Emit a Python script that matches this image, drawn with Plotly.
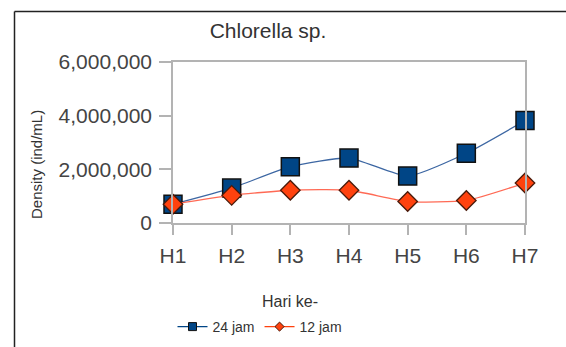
import plotly.graph_objects as go

days = ["H1", "H2", "H3", "H4", "H5", "H6", "H7"]
jam24 = [700000, 1300000, 2100000, 2420000, 1750000, 2600000, 3820000]
jam12 = [700000, 1030000, 1220000, 1220000, 800000, 840000, 1490000]
y_ticks = [0, 2000000, 4000000, 6000000]
y_tick_labels = ["0", "2,000,000", "4,000,000", "6,000,000"]

W, H = 566, 347
L, R, T, B = 173, 41, 62, 124
pw, ph = W - L - R, H - T - B

def px_x(px):
    return (px - L) / pw

def px_y(py):
    return (H - B - py) / ph

FONT = "Liberation Sans, Arial, sans-serif"

fig = go.Figure()

fig.add_trace(go.Scatter(
    x=days, y=jam24, mode="lines+markers", name="24 jam", showlegend=False,
    line=dict(color="#3d67a3", width=1.3, shape="spline", smoothing=0.55),
    marker=dict(symbol="square", size=18, color="#004586",
                line=dict(color="#111111", width=1.5)),
    cliponaxis=False,
))
fig.add_trace(go.Scatter(
    x=days, y=jam12, mode="lines+markers", name="12 jam", showlegend=False,
    line=dict(color="#ff6a55", width=1.3, shape="spline", smoothing=0.55),
    marker=dict(symbol="diamond", size=15, color="#ff420e",
                line=dict(color="#4a1a0a", width=1.3)),
    cliponaxis=False,
))
# legend entries (smaller symbols, as in the reference legend)
fig.add_trace(go.Scatter(
    x=[None], y=[None], mode="lines+markers", name="24 jam",
    line=dict(color="#004586", width=1.3),
    marker=dict(symbol="square", size=8, color="#004586",
                line=dict(color="#111111", width=1)),
))
fig.add_trace(go.Scatter(
    x=[None], y=[None], mode="lines+markers", name="12 jam",
    line=dict(color="#ff420e", width=1.3),
    marker=dict(symbol="diamond", size=7, color="#ff420e",
                line=dict(color="#4a1a0a", width=1)),
))

fig.update_layout(
    width=W, height=H,
    margin=dict(l=L, r=R, t=T, b=B, pad=0, autoexpand=False),
    paper_bgcolor="white", plot_bgcolor="white",
    font=dict(family=FONT, color="#333333"),
    title=dict(text="Chlorella sp.", x=px_x(268), xref="paper", xanchor="center",
               y=1 - 31 / H, yref="container", yanchor="middle",
               font=dict(size=21, color="#333333", family=FONT)),
    showlegend=True,
    legend=dict(orientation="h", x=px_x(260), xanchor="center",
                y=1 - 327 / H, yref="container", yanchor="middle",
                font=dict(size=14, color="#333333", family=FONT),
                itemwidth=30, tracegroupgap=0, bgcolor="rgba(0,0,0,0)"),
    xaxis=dict(
        type="category", categoryorder="array", categoryarray=days,
        range=[0, len(days) - 1], automargin=False,
        showgrid=False, zeroline=False,
        showline=True, linecolor="#b3b3b3", linewidth=1.5, mirror=True,
        ticks="outside", ticklen=10, tickcolor="#b3b3b3", tickwidth=1.5,
        ticklabelstandoff=3,
        tickfont=dict(size=21, color="#444444", family=FONT),
    ),
    yaxis=dict(
        range=[0, 6000000], tickvals=y_ticks, ticktext=y_tick_labels,
        automargin=False,
        showgrid=False, zeroline=False,
        showline=True, linecolor="#b3b3b3", linewidth=1.5, mirror=True,
        ticks="outside", ticklen=12, tickcolor="#b3b3b3", tickwidth=1.5,
        ticklabelstandoff=3,
        tickfont=dict(size=21, color="#444444", family=FONT),
    ),
    annotations=[
        dict(text="Hari ke-", xref="paper", yref="paper", x=px_x(290), y=px_y(301),
             xanchor="center", yanchor="middle", showarrow=False,
             font=dict(size=16, color="#333333", family=FONT)),
        dict(text="Density (ind/mL)", xref="paper", yref="paper", x=px_x(36), y=px_y(165),
             xanchor="center", yanchor="middle", showarrow=False, textangle=-90,
             font=dict(size=15, color="#333333", family=FONT)),
    ],
)

# outer chart frame (top and left edges visible in the reference)
fig.add_shape(type="line", xref="paper", yref="paper",
              x0=px_x(14.5), x1=px_x(W + 20), y0=px_y(11.5), y1=px_y(11.5),
              line=dict(color="#222222", width=1.5))
fig.add_shape(type="line", xref="paper", yref="paper",
              x0=px_x(14.5), x1=px_x(14.5), y0=px_y(11.5), y1=px_y(H + 20),
              line=dict(color="#222222", width=1.5))

fig.write_html("out.html")
